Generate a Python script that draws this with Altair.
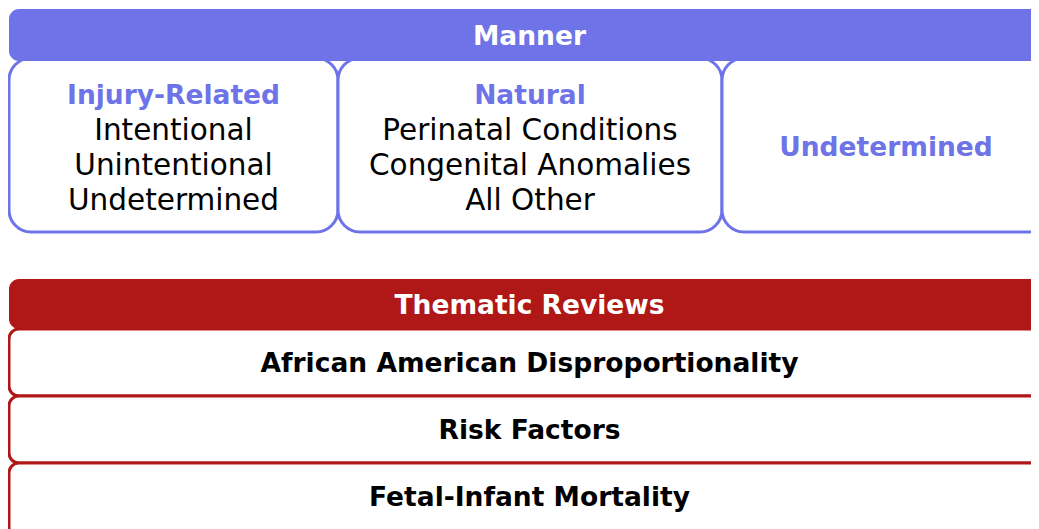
import altair as alt
import pandas as pd

# ---- content ----
manner_title = "Manner"
manner_groups = ["Injury-Related", "Natural", "Undetermined"]
manner_items = [
    ["Intentional", "Unintentional", "Undetermined"],
    ["Perinatal Conditions", "Congenital Anomalies", "All Other"],
    [],
]
thematic_title = "Thematic Reviews"
thematic_items = ["African American Disproportionality", "Risk Factors", "Fetal-Infant Mortality"]

# ---- layout (page pixel grid) ----
col_edges = [9, 338, 722, 1050]
manner_header = [9, 61]
manner_box = [58, 232]
thematic_header = [279, 329]
thematic_rows = [329, 396, 463, 540]
line_gap = 35

PURPLE = "#6e73e8"
RED = "#b01717"
FONT = "DejaVu Sans"

# rectangles
rects = [dict(x=col_edges[i], x2=col_edges[i + 1], y=manner_box[0], y2=manner_box[1]) for i in range(3)]
rects_m_head = [dict(x=col_edges[0], x2=col_edges[-1], y=manner_header[0], y2=manner_header[1])]
rects_t_head = [dict(x=col_edges[0], x2=col_edges[-1], y=thematic_header[0], y2=thematic_header[1])]
rects_t = [dict(x=col_edges[0], x2=col_edges[-1], y=thematic_rows[i], y2=thematic_rows[i + 1]) for i in range(3)]

# texts
cx_all = (col_edges[0] + col_edges[-1]) / 2
texts = []
texts.append(dict(label=manner_title, x=cx_all, y=sum(manner_header) / 2, role="head"))
texts.append(dict(label=thematic_title, x=cx_all, y=sum(thematic_header) / 2, role="head"))
box_mid = (manner_header[1] + manner_box[1]) / 2
for i, g in enumerate(manner_groups):
    cx = (col_edges[i] + col_edges[i + 1]) / 2
    lines = [g] + manner_items[i]
    n = len(lines)
    for j, l in enumerate(lines):
        texts.append(dict(label=l, x=cx, y=box_mid + (j - (n - 1) / 2) * line_gap,
                          role="group" if j == 0 else "item"))
row_mids = [(thematic_rows[i] + thematic_rows[i + 1]) / 2 for i in range(2)] + [496]
for i, t in enumerate(thematic_items):
    texts.append(dict(label=t, x=cx_all, y=row_mids[i], role="row"))

xs = alt.Scale(domain=[8, 1031])
ys = alt.Scale(domain=[8, 529], reverse=True)
X = lambda f: alt.X(f, type="quantitative", scale=xs, axis=None)
Y = lambda f: alt.Y(f, type="quantitative", scale=ys, axis=None)

def rect_layer(data, fill, stroke, sw, radius):
    kw = dict(clip=True, fill=fill, cornerRadius=radius)
    if stroke:
        kw.update(stroke=stroke, strokeWidth=sw)
    return alt.Chart(pd.DataFrame(data)).mark_rect(**kw).encode(
        x=X("x"), x2="x2", y=Y("y"), y2="y2")

def text_layer(role, color, size, weight):
    df = pd.DataFrame([t for t in texts if t["role"] == role])
    return alt.Chart(df).mark_text(font=FONT, fontSize=size, fontWeight=weight, color=color,
                                   align="center", baseline="middle", dy=1.5).encode(
        x=X("x"), y=Y("y"), text="label:N")

chart = alt.layer(
    rect_layer(rects, "white", PURPLE, 3, 22),
    rect_layer(rects_m_head, PURPLE, None, 0, 10),
    rect_layer(rects_t, "white", RED, 3, 10),
    rect_layer(rects_t_head, RED, None, 0, 10),
    text_layer("head", "white", 26.5, "bold"),
    text_layer("group", PURPLE, 26.5, "bold"),
    text_layer("item", "black", 29.5, "normal"),
    text_layer("row", "black", 26.5, "bold"),
).properties(width=1023, height=521, padding=0,
             autosize=alt.AutoSizeParams(type="none")
).configure_view(stroke=None)

chart.save("out.html", embed_options={"renderer": "svg", "actions": False})
